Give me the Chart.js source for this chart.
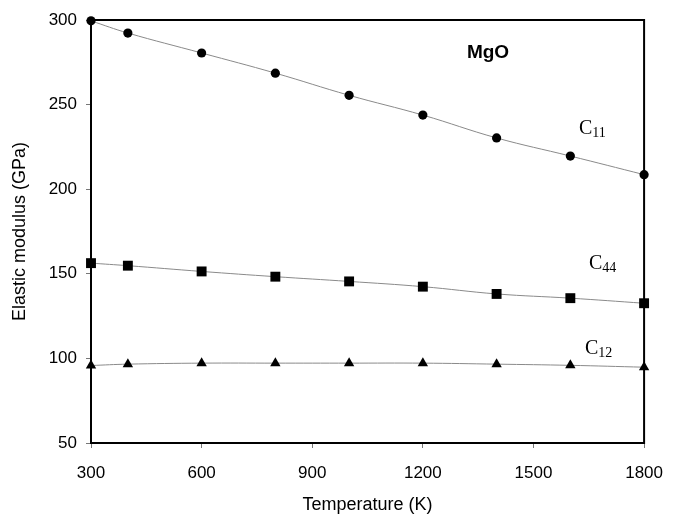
<!DOCTYPE html>
<html>
<head>
<meta charset="utf-8">
<script src="https://cdn.jsdelivr.net/npm/chart.js@4.4.1/dist/chart.umd.min.js"></script>
<style>
  html, body { margin: 0; padding: 0; background: #fff; }
  #wrap { width: 678px; height: 514px; }
</style>
</head>
<body>
<div id="wrap"><canvas id="c" width="678" height="514"></canvas></div>
<script>
// ── DATOS ─────────────────────────────────────────────
var temps = [300, 400, 600, 800, 1000, 1200, 1400, 1600, 1800];
var c11   = [299.5, 292.3, 280.5, 268.6, 255.5, 243.8, 230.3, 219.6, 208.6];
var c44   = [156.3, 154.8, 151.4, 148.3, 145.5, 142.4, 138.1, 135.6, 132.6];
var c12   = [95.8, 96.6, 97.2, 97.2, 97.2, 97.2, 96.6, 95.9, 94.8];
var xTicks = [300, 600, 900, 1200, 1500, 1800];
var yTicks = [50, 100, 150, 200, 250, 300];

var FONT = "'Liberation Sans', Arial, sans-serif";
var SERIF = "'Liberation Serif', 'Times New Roman', serif";

function pts(ys) {
  return temps.map(function (t, i) { return { x: t, y: ys[i] }; });
}

function serie(ys, estilo, r) {
  return {
    data: pts(ys),
    showLine: true,
    clip: false,
    borderColor: '#8a8a8a',
    borderWidth: 1,
    tension: 0.4,
    pointStyle: estilo,
    pointRadius: r,
    pointHoverRadius: r,
    pointBackgroundColor: '#000',
    pointBorderColor: '#000',
    pointBorderWidth: 0
  };
}

// ── MARCO Y ETIQUETAS ─────────────────────────────────
var marco = {
  id: 'marco',
  beforeDatasetsDraw: function (chart) {
    var ctx = chart.ctx, a = chart.chartArea;
    ctx.save();
    ctx.strokeStyle = '#000';
    ctx.lineWidth = 2;
    ctx.strokeRect(a.left, a.top, a.right - a.left, a.bottom - a.top);
    ctx.restore();
  },
  afterDatasetsDraw: function (chart) {
    var ctx = chart.ctx;
    ctx.save();
    ctx.fillStyle = '#000';
    ctx.textBaseline = 'alphabetic';
    ctx.textAlign = 'center';
    ctx.font = 'bold 19px ' + FONT;
    ctx.fillText('MgO', 488, 58);

    function etiqueta(sub, x, y) {
      ctx.textAlign = 'left';
      ctx.font = '20px ' + SERIF;
      ctx.fillText('C', x, y);
      var w = ctx.measureText('C').width;
      ctx.font = '14px ' + SERIF;
      ctx.fillText(sub, x + w, y + 3);
    }
    etiqueta('11', 579, 134);
    etiqueta('44', 589, 269);
    etiqueta('12', 585, 354);
    ctx.restore();
  }
};

new Chart(document.getElementById('c'), {
  type: 'scatter',
  data: {
    datasets: [
      serie(c11, 'circle', 4.6),
      serie(c44, 'rect', 7),
      serie(c12, 'triangle', 6)
    ]
  },
  options: {
    responsive: false,
    animation: false,
    layout: { padding: { top: 20, right: 33, left: 0, bottom: 0 } },
    plugins: { legend: { display: false }, tooltip: { enabled: false } },
    scales: {
      x: {
        type: 'linear',
        min: 300, max: 1800,
        afterBuildTicks: function (s) { s.ticks = xTicks.map(function (v) { return { value: v }; }); },
        afterFit: function (s) { s.height = 71; },
        grid: { drawOnChartArea: false, drawTicks: true, tickLength: 5, color: '#777', lineWidth: 1 },
        border: { color: '#000', width: 2 },
        ticks: {
          color: '#000', font: { family: FONT, size: 17 }, padding: 15, maxRotation: 0,
          callback: function (v) { return String(v); }
        },
        title: { display: true, text: 'Temperature (K)', color: '#000', font: { family: FONT, size: 18 }, padding: { top: 0, bottom: -2 } }
      },
      y: {
        min: 50, max: 300,
        afterBuildTicks: function (s) { s.ticks = yTicks.map(function (v) { return { value: v }; }); },
        afterFit: function (s) { s.width = 91; },
        grid: { drawOnChartArea: false, drawTicks: true, tickLength: 5, color: '#777', lineWidth: 1 },
        border: { color: '#000', width: 2 },
        ticks: {
          color: '#000', font: { family: FONT, size: 17 }, padding: 9,
          callback: function (v) { return String(v); }
        },
        title: { display: true, text: 'Elastic modulus (GPa)', color: '#000', font: { family: FONT, size: 18 }, padding: { top: 9, bottom: 0 } }
      }
    }
  },
  plugins: [marco]
});
</script>
</body>
</html>
